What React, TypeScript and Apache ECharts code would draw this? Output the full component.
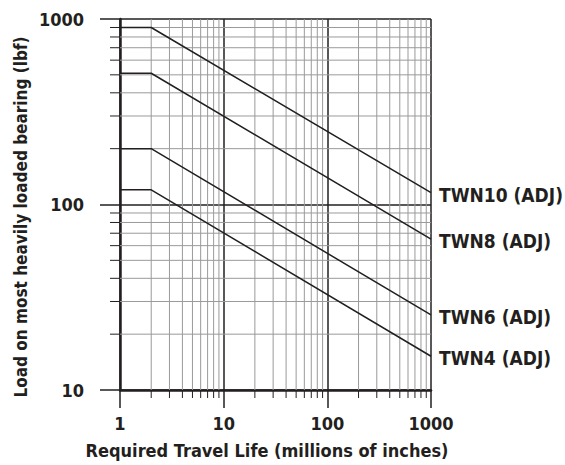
import React, { useEffect, useRef } from "react";
import * as echarts from "echarts";

const travelLife = [1, 2, 1000];
const twn10 = [900, 900, 116];
const twn8 = [510, 510, 65];
const twn6 = [200, 200, 25.4];
const twn4 = [120, 120, 15.2];
const seriesNames = ["TWN10 (ADJ)", "TWN8 (ADJ)", "TWN6 (ADJ)", "TWN4 (ADJ)"];
const xMinor = [2, 3, 4, 5, 6, 7, 8, 9, 20, 30, 40, 50, 60, 70, 80, 90, 200, 300, 400, 500, 600, 700, 800, 900];
const yMinor = [20, 30, 40, 50, 60, 70, 80, 90, 200, 300, 400, 500, 600, 700, 800, 900];
const X_MIN = 1, X_MAX = 1000, Y_MIN = 10, Y_MAX = 1000;

const FONT = "'DejaVu Sans Condensed', 'Liberation Sans Narrow', sans-serif";
const INK = "#231f20";

export default function App() {
  const ref = useRef<HTMLDivElement>(null);
  useEffect(() => {
    if (!ref.current) return;
    const chart = echarts.init(ref.current, null, { renderer: "svg" });
    const allSeries = [twn10, twn8, twn6, twn4];
    const lineSeries = allSeries.map((vals, i) => ({
      type: "line",
      name: seriesNames[i],
      data: travelLife.map((x, j) => [x, vals[j]]),
      symbol: "none",
      lineStyle: { color: INK, width: 1.5 },
      z: 5,
      endLabel: {
        show: true,
        formatter: "{a}",
        color: INK,
        fontFamily: FONT,
        fontWeight: "bold",
        fontSize: 19,
        offset: [0, 2],
      },
    }));
    const fmt = (v: number) => String(Math.round(v));
    chart.setOption({
      animation: false,
      grid: { left: 120, right: 134, top: 19, bottom: 75, containLabel: false },
      xAxis: {
        type: "log",
        logBase: 10,
        min: X_MIN,
        max: X_MAX,
        axisLine: { show: true, lineStyle: { color: INK, width: 2.5 } },
        axisTick: { show: true, length: 18, lineStyle: { color: INK, width: 1.5 } },
        axisLabel: { color: INK, fontFamily: FONT, fontWeight: "bold", fontSize: 18, margin: 24, formatter: fmt },
        splitLine: { show: true, lineStyle: { color: INK, width: 1.5 } },
        minorTick: { show: false },
      },
      yAxis: {
        type: "log",
        logBase: 10,
        min: Y_MIN,
        max: Y_MAX,
        axisLine: { show: true, lineStyle: { color: INK, width: 2.5 } },
        axisTick: { show: true, length: 20, lineStyle: { color: INK, width: 1.5 } },
        axisLabel: { color: INK, fontFamily: FONT, fontWeight: "bold", fontSize: 18, margin: 36, formatter: fmt },
        splitLine: { show: true, lineStyle: { color: INK, width: 1.5 } },
      },
      graphic: [
        {
          type: "text",
          x: 267,
          y: 450,
          style: {
            text: "Required Travel Life (millions of inches)",
            fill: INK,
            font: `bold 18px ${FONT}`,
            textAlign: "center",
            textVerticalAlign: "middle",
          },
        },
        {
          type: "text",
          x: 21,
          y: 217,
          rotation: Math.PI / 2,
          style: {
            text: "Load on most heavily loaded bearing (lbf)",
            fill: INK,
            font: `bold 17px ${FONT}`,
            textAlign: "center",
            textVerticalAlign: "middle",
          },
        },
      ],
      series: [
        {
          type: "custom",
          name: "xMinor",
          data: xMinor.map((v) => [v, Y_MIN]),
          silent: true,
          z: 1,
          renderItem: (params: any, api: any) => {
            const v = api.value(0);
            const top = api.coord([v, Y_MAX]);
            const bot = api.coord([v, Y_MIN]);
            return {
              type: "group",
              children: [
                { type: "line", shape: { x1: top[0], y1: top[1], x2: bot[0], y2: bot[1] }, style: { stroke: "#9a9a9a", lineWidth: 1 } },
                { type: "line", shape: { x1: bot[0], y1: bot[1], x2: bot[0], y2: bot[1] + 8 }, style: { stroke: INK, lineWidth: 1 } },
              ],
            };
          },
        },
        {
          type: "custom",
          name: "yMinor",
          data: yMinor.map((v) => [X_MIN, v]),
          silent: true,
          z: 1,
          renderItem: (params: any, api: any) => {
            const v = api.value(1);
            const l = api.coord([X_MIN, v]);
            const r = api.coord([X_MAX, v]);
            return {
              type: "group",
              children: [
                { type: "line", shape: { x1: l[0], y1: l[1], x2: r[0], y2: r[1] }, style: { stroke: "#9a9a9a", lineWidth: 1 } },
                { type: "line", shape: { x1: l[0] - 10, y1: l[1], x2: l[0], y2: l[1] }, style: { stroke: INK, lineWidth: 1 } },
              ],
            };
          },
        },
        ...lineSeries,
      ],
    });
    return () => chart.dispose();
  }, []);
  return <div ref={ref} style={{ width: 565, height: 465, position: "absolute", left: 0, top: 0, background: "#fff" }} />;
}
